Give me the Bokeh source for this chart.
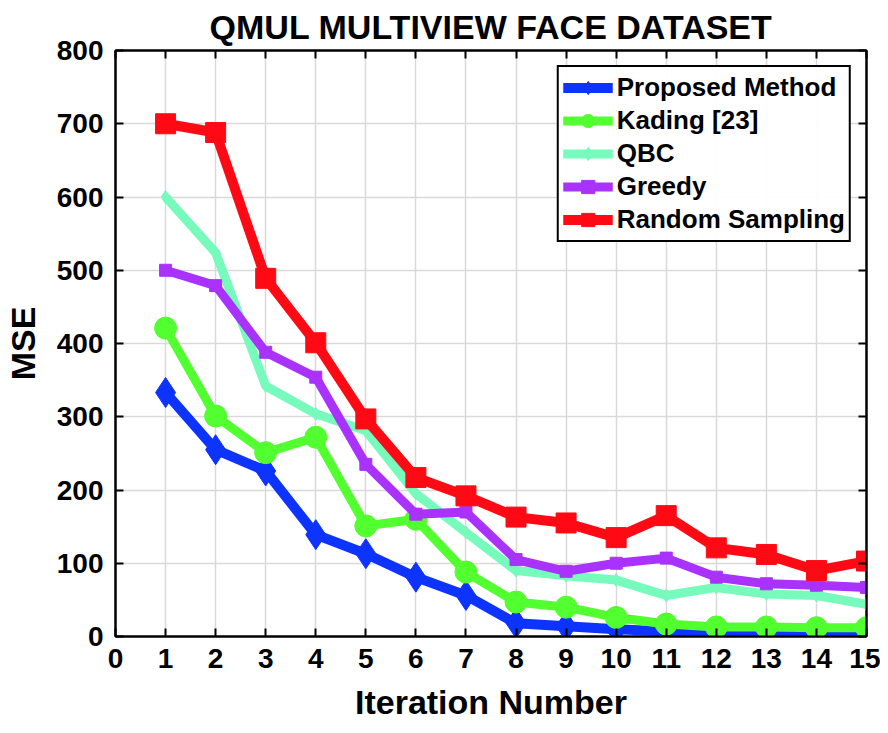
from bokeh.plotting import figure
from bokeh.models import LinearAxis, Range1d, FixedTicker, Legend, LegendItem, CustomJSTickFormatter
from bokeh.embed import file_html
from bokeh.resources import INLINE

iterations = list(range(1, 16))
proposed = [333, 255, 226, 139, 113, 81, 56, 18, 14, 10, 7, 5, 4, 3, 3]
kading = [421, 301, 251, 272, 151, 160, 88, 47, 40, 26, 17, 13, 13, 12, 12]
qbc = [600, 524, 342, 304, 281, 195, 142, 90, 83, 77, 56, 67, 58, 56, 44]
greedy = [500, 479, 388, 354, 235, 167, 170, 105, 89, 100, 107, 81, 72, 70, 67]
random_sampling = [700, 688, 489, 401, 297, 217, 192, 163, 155, 135, 165, 121, 112, 90, 103]

x_ticks = list(range(0, 16))
y_ticks = list(range(0, 801, 100))

FONT = "Liberation Sans"

p = figure(width=880, height=733, output_backend="svg", toolbar_location=None,
           x_range=Range1d(0, 15), y_range=Range1d(0, 800),
           min_border_left=115, min_border_right=14, min_border_top=49, min_border_bottom=97)

p.title.text = "QMUL MULTIVIEW FACE DATASET"
p.title.align = "center"
p.title.text_font = FONT
p.title.text_font_size = "34px"
p.title.text_font_style = "bold"
p.title.text_color = "black"
p.title.offset = 0

for ax in (p.xaxis[0], p.yaxis[0]):
    ax.major_tick_in = 8
    ax.major_tick_out = 0
    ax.minor_tick_line_color = None
    ax.axis_line_width = 2
    ax.major_tick_line_width = 2
    ax.axis_line_color = "black"
    ax.major_tick_line_color = "black"
    ax.major_label_text_font = FONT
    ax.major_label_text_font_size = "28px"
    ax.major_label_text_font_style = "bold"
    ax.major_label_text_color = "black"
    ax.axis_label_text_font = FONT
    ax.axis_label_text_font_size = "34px"
    ax.axis_label_text_font_style = "bold"
    ax.axis_label_text_color = "black"

p.xaxis[0].ticker = FixedTicker(ticks=x_ticks)
p.yaxis[0].ticker = FixedTicker(ticks=y_ticks)
p.xaxis[0].axis_label = "Iteration Number"
p.yaxis[0].axis_label = "MSE"
p.xaxis[0].major_label_standoff = 12
p.yaxis[0].major_label_standoff = 12
p.xaxis[0].axis_label_standoff = 12
p.yaxis[0].axis_label_standoff = 12

top = LinearAxis(ticker=FixedTicker(ticks=x_ticks), formatter=CustomJSTickFormatter(code="return ''"),
                 major_tick_in=8, major_tick_out=0, minor_tick_line_color=None,
                 axis_line_width=2, major_tick_line_width=2, major_label_standoff=0,
                 axis_line_color="black", major_tick_line_color="black")
right = LinearAxis(ticker=FixedTicker(ticks=y_ticks), formatter=CustomJSTickFormatter(code="return ''"),
                   major_tick_in=8, major_tick_out=0, minor_tick_line_color=None,
                   axis_line_width=2, major_tick_line_width=2, major_label_standoff=0,
                   axis_line_color="black", major_tick_line_color="black")
p.add_layout(top, "above")
p.add_layout(right, "right")

p.xgrid.ticker = FixedTicker(ticks=x_ticks)
p.ygrid.ticker = FixedTicker(ticks=y_ticks)
p.grid.grid_line_color = "#d9d9d9"
p.grid.grid_line_width = 1.5
p.outline_line_color = "black"
p.outline_line_width = 2

series = [
    ("Proposed Method", proposed, "#0D33FF", "diamond", 30, 10),
    ("Kading [23]", kading, "#52FF2F", "circle", 22, 9),
    ("QBC", qbc, "#76FBBC", "diamond", 13, 9),
    ("Greedy", greedy, "#A932FF", "square", 12, 9),
    ("Random Sampling", random_sampling, "#FF0A14", "square", 20, 10),
]

items = []
for name, ys, color, marker, size, lw in series:
    r1 = p.line(iterations, ys, line_color=color, line_width=lw)
    r2 = p.scatter(iterations, ys, marker=marker, size=size, fill_color=color, line_color=color)
    items.append(LegendItem(label=name, renderers=[r1, r2]))

legend = Legend(items=items, location="top_right")
legend.label_text_font = FONT
legend.label_text_font_size = "26px"
legend.label_text_font_style = "bold"
legend.label_text_color = "black"
legend.border_line_color = "black"
legend.border_line_width = 2
legend.border_line_alpha = 1
legend.margin = 15
legend.padding = 4
legend.spacing = 0
legend.glyph_width = 50
legend.glyph_height = 33
legend.label_height = 33
legend.label_standoff = 4
p.add_layout(legend, "center")

open("out.html", "w").write(file_html(p, INLINE))
